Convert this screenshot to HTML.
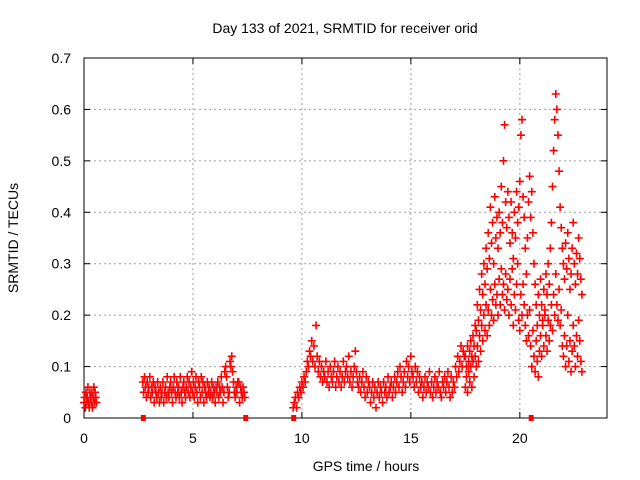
<!DOCTYPE html>
<html><head><meta charset="utf-8"><style>
html,body{margin:0;padding:0;background:#fff;}
svg{display:block;font-family:"Liberation Sans",sans-serif;}
</style></head><body>
<svg id="chart" width="640" height="480" xmlns="http://www.w3.org/2000/svg">
<text x="345" y="33" font-size="14" text-anchor="middle">Day 133 of 2021, SRMTID for receiver orid</text>
<text x="366" y="471" font-size="14" text-anchor="middle">GPS time / hours</text>
<text transform="translate(18,238) rotate(-90)" font-size="14" text-anchor="middle">SRMTID / TECUs</text>
<g id="grid"></g><g id="axes"></g><g id="marks"></g>
</svg>
<script>
const xTicks=[0,5,10,15,20];
const yTicks=[0,0.1,0.2,0.3,0.4,0.5,0.6,0.7];
const yTickLabels=["0","0.1","0.2","0.3","0.4","0.5","0.6","0.7"];
const segAStart=0, segAStep=0.03;
const segA=[0.03,0.04,0.02,0.05,0.03,0.04,0.06,0.03,0.02,0.05,0.04,0.03,0.05,0.02,0.04,0.06,0.03,0.05,0.04,0.03];
const segBStart=2.7, segBStep=0.04;
const segB=[0.07,0.05,0.08,0.06,0.04,0.07,0.05,0.06,0.08,0.04,
0.06,0.05,0.07,0.03,0.06,0.05,0.04,0.07,0.05,0.03,
0.06,0.04,0.05,0.07,0.03,0.05,0.06,0.04,0.08,0.05,
0.04,0.06,0.07,0.05,0.03,0.06,0.08,0.05,0.04,0.07,
0.05,0.06,0.04,0.08,0.05,0.03,0.06,0.07,0.05,0.04,
0.06,0.08,0.05,0.07,0.04,0.06,0.09,0.05,0.07,0.04,
0.06,0.08,0.05,0.03,0.07,0.06,0.04,0.08,0.05,0.07,
0.03,0.06,0.05,0.04,0.07,0.05,0.06,0.04,0.05,0.07,
0.04,0.06,0.05,0.03,0.06,0.05,0.07,0.04,0.06,0.05,
0.08,0.06,0.03,0.05,0.09,0.10,0.08,0.06,0.04,0.05,
0.11,0.10,0.12,0.09,0.07,0.05,0.04,0.06,0.05,0.07,
0.07,0.03,0.06,0.05,0.04,0.06,0.05,0.04];
const segCStart=9.6, segCStep=0.05;
const segC=[0.02,0.03,0.04,0.02,0.05,0.04,0.06,0.05,0.07,0.06,
0.08,0.07,0.09,0.11,0.10,0.13,0.12,0.15,0.11,0.14,
0.10,0.18,0.12,0.09,0.11,0.08,0.10,0.07,0.09,0.08,
0.11,0.07,0.09,0.06,0.10,0.08,0.07,0.09,0.11,0.06,
0.08,0.10,0.07,0.09,0.06,0.08,0.11,0.07,0.09,0.10,
0.08,0.12,0.07,0.09,0.06,0.08,0.10,0.13,0.09,0.07,
0.06,0.08,0.05,0.07,0.09,0.06,0.04,0.08,0.05,0.07,
0.06,0.03,0.05,0.07,0.04,0.06,0.02,0.05,0.07,0.04,
0.06,0.05,0.03,0.07,0.05,0.06,0.04,0.08,0.05,0.06,
0.07,0.04,0.06,0.08,0.05,0.07,0.09,0.06,0.10,0.08,
0.05,0.07,0.09,0.06,0.11,0.08,0.10,0.07,0.12,0.09,
0.08,0.06,0.10,0.07,0.09,0.05,0.08,0.06,0.07,0.04,
0.06,0.08,0.05,0.07,0.06,0.09,0.05,0.07,0.04,0.06,
0.08,0.05,0.07,0.06,0.09,0.05,0.04,0.07,0.06,0.08,
0.05,0.07,0.09,0.06,0.04,0.08,0.05,0.07,0.06,0.10,
0.08,0.12,0.09,0.11,0.14,0.10,0.13,0.12];
const segDStart=17.5, segDStep=0.05;
const segDUpper=[0.12,0.10,0.14,0.11,0.13,0.15,0.12,0.16,0.14,0.18,
0.17,0.22,0.19,0.25,0.21,0.28,0.24,0.30,0.26,0.33,
0.29,0.36,0.31,0.41,0.34,0.38,0.30,0.43,0.35,0.39,
0.33,0.40,0.36,0.45,0.38,0.50,0.57,0.42,0.37,0.44,
0.39,0.34,0.42,0.36,0.31,0.40,0.35,0.44,0.38,0.41,
0.46,0.55,0.58,0.43,0.39,0.33,0.28,0.35,0.42,0.47,
0.39,0.44,0.36,0.30,0.26,0.22,0.18,0.24,0.20,0.27,
0.22,0.19,0.25,0.21,0.28,0.24,0.30,0.26,0.33,0.38,
0.45,0.52,0.58,0.63,0.60,0.55,0.48,0.41,0.37,0.33,
0.30,0.27,0.34,0.29,0.36,0.31,0.25,0.28,0.33,0.38,
0.30,0.26,0.32,0.28,0.35,0.31,0.27,0.24];
const segDLower=[0.06,0.08,0.05,0.09,0.07,0.10,0.06,0.11,0.08,0.12,
0.10,0.14,0.11,0.16,0.13,0.18,0.15,0.20,0.17,0.22,
0.16,0.21,0.18,0.25,0.20,0.23,0.19,0.26,0.22,0.24,
0.20,0.27,0.22,0.29,0.24,0.26,0.21,0.28,0.23,0.25,
0.20,0.27,0.22,0.29,0.18,0.24,0.21,0.26,0.30,0.19,
0.17,0.24,0.20,0.26,0.22,0.18,0.15,0.20,0.16,0.21,
0.14,0.10,0.17,0.12,0.09,0.15,0.11,0.08,0.13,0.16,
0.12,0.18,0.14,0.20,0.16,0.13,0.19,0.15,0.18,0.22,
0.17,0.24,0.20,0.28,0.22,0.19,0.25,0.18,0.21,0.14,
0.12,0.16,0.10,0.14,0.20,0.11,0.15,0.09,0.13,0.18,
0.14,0.10,0.16,0.12,0.19,0.15,0.11,0.09];
const gapMarkers=[2.7,7.4,9.6,20.5];

const L=84,R=607,T=58,B=418,XMAX=24,YMAX=0.7;
const xs=v=>L+(R-L)*v/XMAX;
const ys=v=>B-(B-T)*v/YMAX;
const NS="http://www.w3.org/2000/svg";
function mk(tag,attrs,parent){const e=document.createElementNS(NS,tag);for(const k in attrs)e.setAttribute(k,attrs[k]);parent.appendChild(e);return e;}
const grid=document.getElementById('grid'),axes=document.getElementById('axes'),marks=document.getElementById('marks');

xTicks.forEach(t=>{
  const x=xs(t);
  if(t>0){const g=mk('line',{x1:x,x2:x,y1:T,y2:B,stroke:'#a0a0a0','stroke-dasharray':'2,3'},grid);
  
  }
  mk('line',{x1:x,x2:x,y1:B,y2:B-6,stroke:'#000'},axes);
  mk('line',{x1:x,x2:x,y1:T,y2:T+6,stroke:'#000'},axes);
  const tx=mk('text',{x:x,y:B+25,'font-size':14,'text-anchor':'middle'},axes);
  tx.textContent=String(t);
  
  
});
yTicks.forEach((t,i)=>{
  const y=ys(t);
  if(t>0&&t<YMAX){const g=mk('line',{x1:L,x2:R,y1:y,y2:y,stroke:'#a0a0a0','stroke-dasharray':'2,3'},grid);
  
  }
  mk('line',{x1:L,x2:L+6,y1:y,y2:y,stroke:'#000'},axes);
  mk('line',{x1:R,x2:R-6,y1:y,y2:y,stroke:'#000'},axes);
  const tx=mk('text',{x:L-13,y:y+5,'font-size':14,'text-anchor':'end'},axes);
  tx.textContent=yTickLabels[i];
  
  
});
const frame=mk('rect',{x:L,y:T,width:R-L,height:B-T,fill:'none',stroke:'#000'},axes);



function cross(t,v){
  const x=xs(t),y=ys(v);
  const p=mk('path',{d:`M${x-4} ${y}H${x+4}M${x} ${y-4}V${y+4}`,stroke:'#ff0000','stroke-width':1.6,fill:'none'},marks);
  
  
}
function seg(start,step,arr){arr.forEach((v,i)=>cross(start+i*step,v));}
seg(segAStart,segAStep,segA);
seg(segBStart,segBStep,segB);
seg(segCStart,segCStep,segC);
seg(segDStart,segDStep,segDLower);
seg(segDStart,segDStep,segDUpper);
gapMarkers.forEach(t=>{
  const r=mk('rect',{x:xs(t)-2,y:B-3,width:5,height:6,fill:'#ff0000'},marks);
  
  
});
</script>
</body></html>
